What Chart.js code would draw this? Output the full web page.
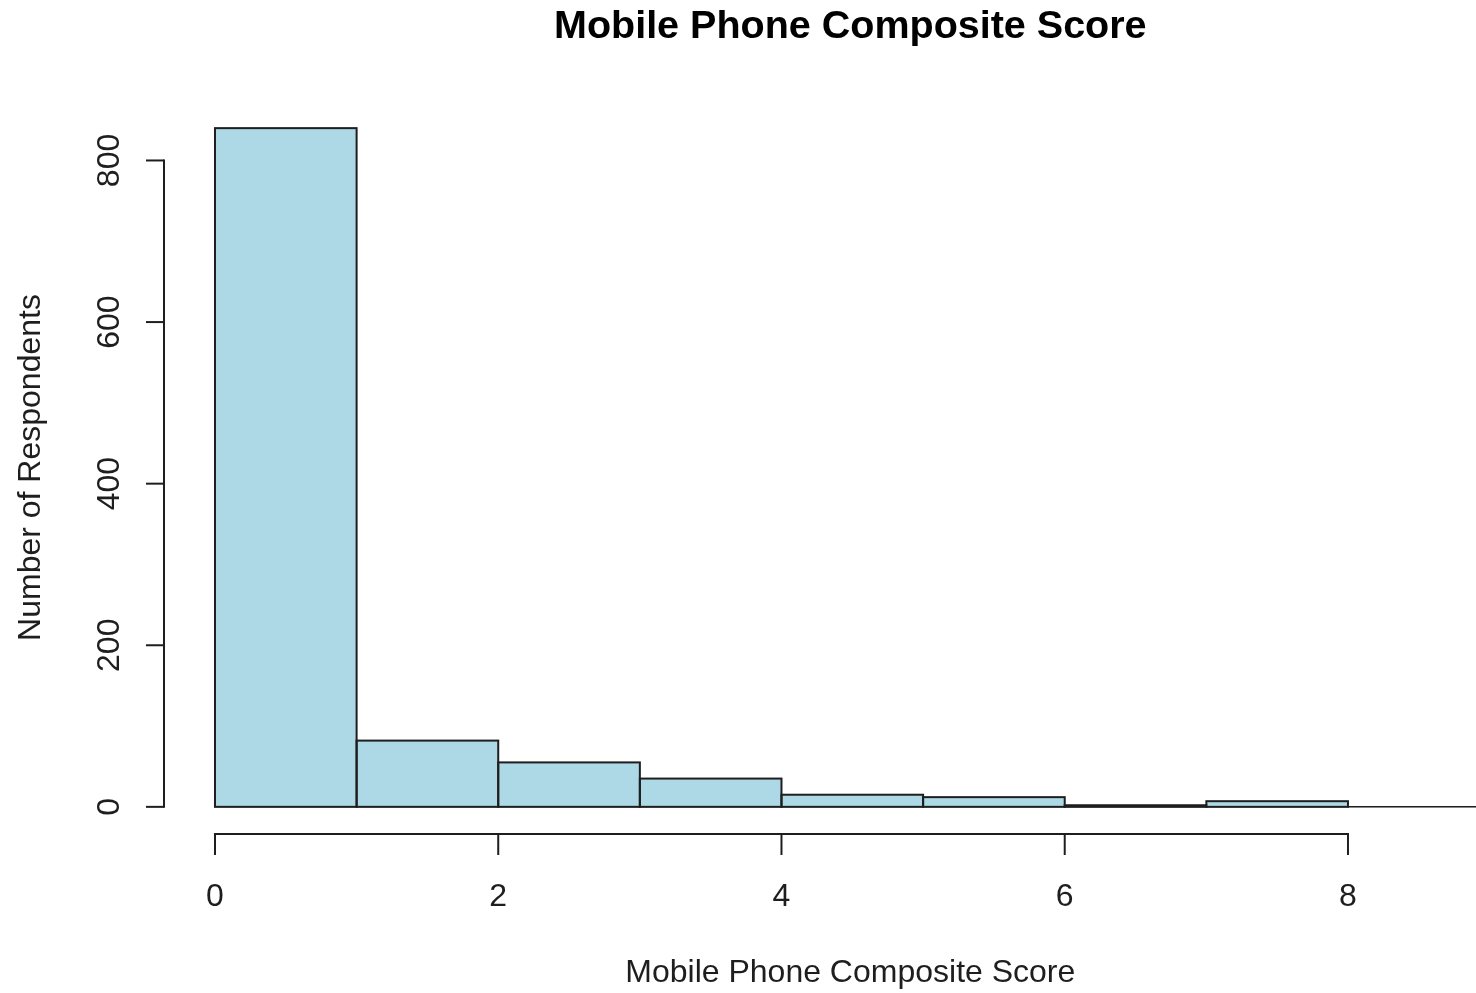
<!DOCTYPE html>
<html>
<head>
<meta charset="utf-8">
<title>Mobile Phone Composite Score</title>
<script src="https://cdn.jsdelivr.net/npm/chart.js@4.4.1/dist/chart.umd.min.js"></script>
<style>
  html, body { margin: 0; padding: 0; background: #ffffff; overflow: hidden; }
  #wrap { position: relative; width: 1476px; height: 993px; }
</style>
</head>
<body>
<div id="wrap"><canvas id="c"></canvas></div>
<script>
// ---- data ----
const binEdges = [0, 1, 2, 3, 4, 5, 6, 7, 8, 9];
const counts = [840, 82, 55, 35, 15, 12, 2, 7, 0];
const xTickValues = [0, 2, 4, 6, 8];
const yTickValues = [0, 200, 400, 600, 800];
const chartTitle = 'Mobile Phone Composite Score';
const xTitle = 'Mobile Phone Composite Score';
const yTitle = 'Number of Respondents';

// ---- styling ----
const FONT = "'Liberation Sans', Arial, Helvetica, sans-serif";
const INK = '#1e1e1e';

const points = counts.map((c, i) => ({ x: (binEdges[i] + binEdges[i + 1]) / 2, y: c }));

const rStyleAxes = {
  id: 'rStyleAxes',
  afterDatasetsDraw(chart) {
    const { ctx, chartArea, scales } = chart;
    const xs = scales.x, ys = scales.y;

    // bar outlines centred on the bar edges (R hist style), incl. zero-count bins
    ctx.save();
    ctx.beginPath();
    ctx.rect(chartArea.left, chartArea.top, chartArea.width, chartArea.height);
    ctx.clip();
    ctx.strokeStyle = INK;
    const meta = chart.getDatasetMeta(0);
    meta.data.forEach((el, i) => {
      const p = el.getProps(['x', 'y', 'width', 'base'], true);
      const left = p.x - p.width / 2;
      ctx.lineWidth = counts[i] === 0 ? 1.5 : 2;
      ctx.strokeRect(left, Math.min(p.y, p.base), p.width, Math.abs(p.base - p.y));
    });
    ctx.restore();

    ctx.save();
    ctx.strokeStyle = INK;
    ctx.fillStyle = INK;
    ctx.lineWidth = 2;
    ctx.lineCap = 'butt';

    // y axis (left, from first to last tick)
    const ax = chartArea.left;
    const yTop = ys.getPixelForValue(yTickValues[yTickValues.length - 1]);
    const yBot = ys.getPixelForValue(yTickValues[0]);
    ctx.beginPath();
    ctx.moveTo(ax, yTop - 1);
    ctx.lineTo(ax, yBot + 1);
    ctx.stroke();
    ctx.font = '32px ' + FONT;
    ctx.textAlign = 'center';
    ctx.textBaseline = 'alphabetic';
    yTickValues.forEach(v => {
      const py = ys.getPixelForValue(v);
      ctx.beginPath();
      ctx.moveTo(ax, py);
      ctx.lineTo(ax - 18, py);
      ctx.stroke();
      ctx.save();
      ctx.translate(ax - 45, py);
      ctx.rotate(-Math.PI / 2);
      ctx.fillText(String(v), 0, 0);
      ctx.restore();
    });

    // x axis (bottom)
    const ay = chartArea.bottom;
    const xL = xs.getPixelForValue(xTickValues[0]);
    const xR = xs.getPixelForValue(xTickValues[xTickValues.length - 1]);
    ctx.beginPath();
    ctx.moveTo(xL - 1, ay);
    ctx.lineTo(xR + 1, ay);
    ctx.stroke();
    xTickValues.forEach(v => {
      const px = xs.getPixelForValue(v);
      ctx.beginPath();
      ctx.moveTo(px, ay);
      ctx.lineTo(px, ay + 21);
      ctx.stroke();
      ctx.fillText(String(v), px, ay + 72);
    });

    // axis titles
    const plotCenterX = (chartArea.left + xs.getPixelForValue(9.36)) / 2;
    const plotCenterY = (chartArea.top + chartArea.bottom) / 2;
    ctx.fillText(xTitle, plotCenterX - 2, 982);
    ctx.save();
    ctx.translate(40, plotCenterY);
    ctx.rotate(-Math.PI / 2);
    ctx.fillText(yTitle, 0, 0);
    ctx.restore();

    // main title
    ctx.fillStyle = '#000000';
    ctx.font = 'bold 39.5px ' + FONT;
    ctx.fillText(chartTitle, plotCenterX - 2, 38);
    ctx.restore();
  }
};

new Chart(document.getElementById('c'), {
  type: 'bar',
  data: {
    datasets: [{
      label: 'Respondents',
      data: points,
      backgroundColor: '#ADD8E6',
      borderWidth: 0,
      barPercentage: 1.0,
      categoryPercentage: 1.0
    }]
  },
  options: {
    responsive: true,
    maintainAspectRatio: false,
    animation: false,
    events: [],
    layout: { padding: { left: 164, right: 0, top: 101, bottom: 159 } },
    plugins: {
      legend: { display: false },
      title: { display: false },
      tooltip: { enabled: false }
    },
    scales: {
      x: {
        type: 'linear',
        offset: false,
        min: -0.36,
        max: 8.904,
        display: false,
        ticks: { stepSize: 1, includeBounds: false },
        grid: { display: false }
      },
      y: {
        type: 'linear',
        min: -33.6,
        max: 873.6,
        display: false,
        grid: { display: false }
      }
    }
  },
  plugins: [rStyleAxes]
});
</script>
</body>
</html>
